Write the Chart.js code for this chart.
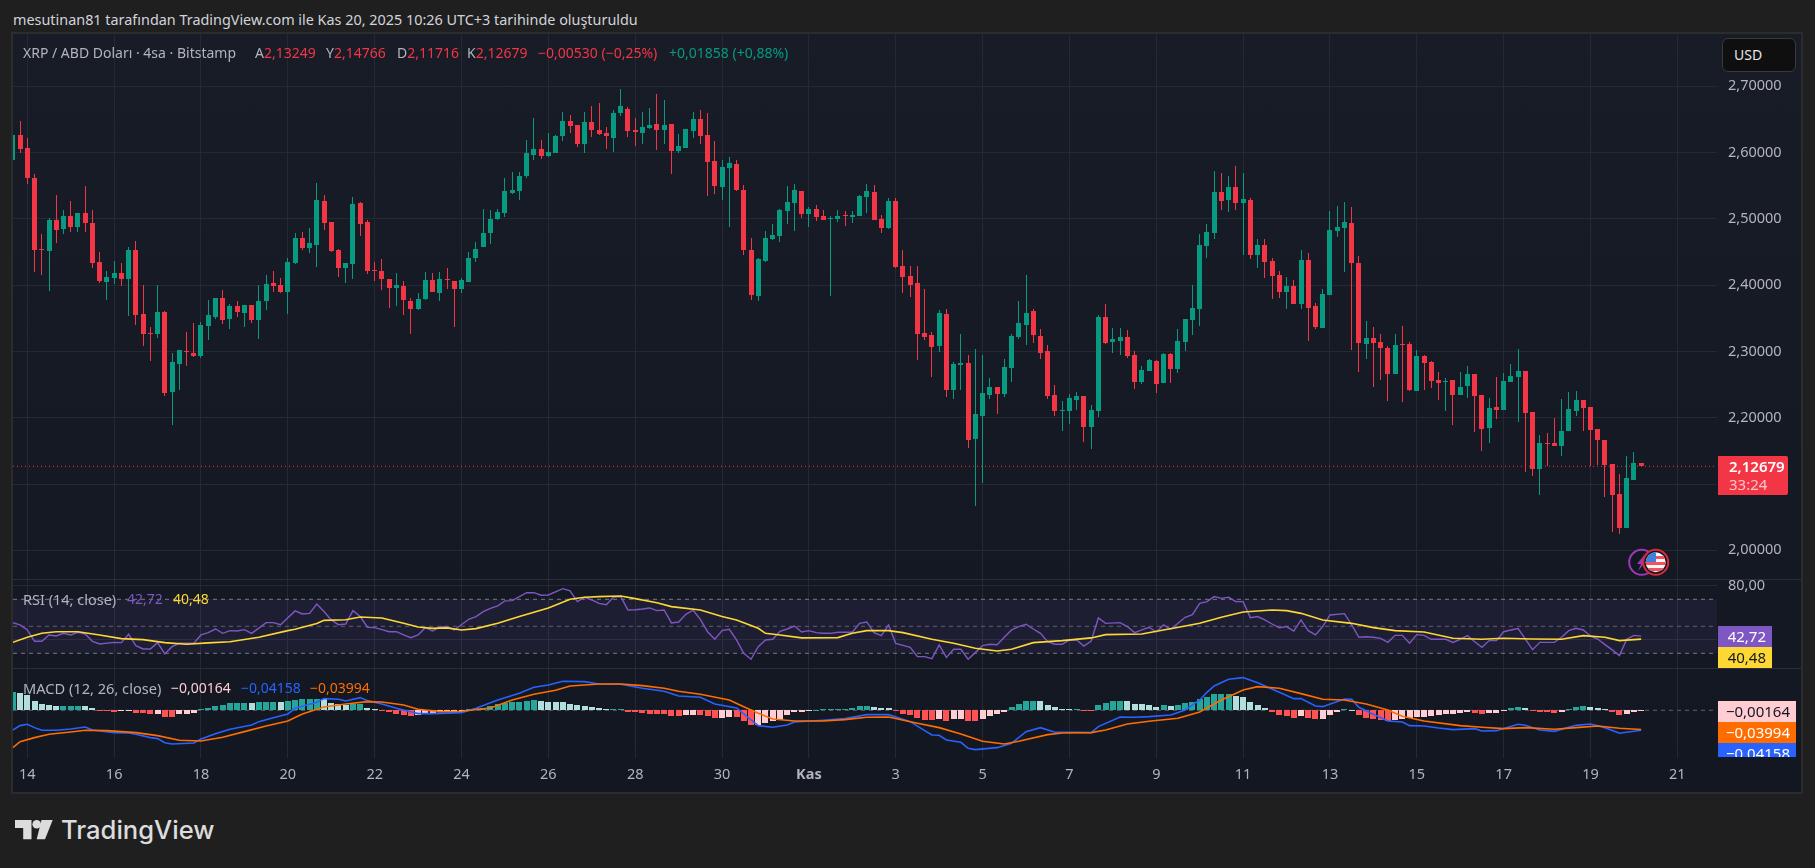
<!DOCTYPE html>
<html lang="tr">
<head>
<meta charset="utf-8">
<title>XRP / ABD Doları</title>
<script src="https://cdn.jsdelivr.net/npm/chart.js@4"></script>
<style>
  html, body { margin: 0; width: 1815px; height: 868px; overflow: hidden; background: #1f1f1f; }
  body { font-family: "Noto Sans", sans-serif; font-size: 14px; color: #b2b5be; }
  .abs { position: absolute; white-space: nowrap; line-height: 20px; }
  #panel { position: absolute; left: 11px; top: 32px; width: 1792px; height: 762px; box-sizing: border-box;
           border: 2px solid #2c2c2c; background: linear-gradient(#181c27, #131722); }
  #chart { position: absolute; left: 13px; top: 34px; }
  .sep { position: absolute; left: 13px; width: 1788px; height: 1px; background: #2a2e39; }
  .tag { position: absolute; left: 1718px; height: 21px; line-height: 21px; text-align: right; box-sizing: border-box; padding-right: 6px; overflow: hidden; font-size: 15px; }
  .red { color: #f23645; } .teal { color: #089981; }
</style>
</head>
<body>
<div class="abs" style="left:13px;top:10px;color:#d1d4dc;font-size:14.4px">mesutinan81 tarafından TradingView.com ile Kas 20, 2025 10:26 UTC+3 tarihinde oluşturuldu</div>
<div id="panel"></div>
<canvas id="chart" width="1788" height="758"></canvas>
<div class="sep" style="top:579px"></div>
<div class="sep" style="top:668px"></div>

<div class="abs" style="left:23px;top:43px">XRP / ABD Doları · 4sa · Bitstamp</div>
<div class="abs" style="left:255px;top:43px">A<span class="red">2,13249</span></div>
<div class="abs" style="left:326px;top:43px">Y<span class="red">2,14766</span></div>
<div class="abs" style="left:397px;top:43px">D<span class="red">2,11716</span></div>
<div class="abs" style="left:467px;top:43px">K<span class="red">2,12679</span></div>
<div class="abs red" style="left:538px;top:43px">−0,00530 (−0,25%)</div>
<div class="abs teal" style="left:669px;top:43px">+0,01858 (+0,88%)</div>

<div class="abs" style="left:23px;top:589px;font-size:14.5px">RSI (14, close)</div>
<div class="abs" style="left:127px;top:589px;color:#7e57c2">42,72</div>
<div class="abs" style="left:173px;top:589px;color:#fdd835">40,48</div>
<div class="abs" style="left:23px;top:678px;font-size:14.6px">MACD (12, 26, close)</div>
<div class="abs" style="left:171px;top:678px;color:#ffcdd2">−0,00164</div>
<div class="abs" style="left:241px;top:678px;color:#2962ff">−0,04158</div>
<div class="abs" style="left:310px;top:678px;color:#ff6d00">−0,03994</div>

<div class="abs" style="left:1722px;top:38px;width:72px;height:32px;line-height:32px;box-sizing:content-box;background:#0f0f0f;border:1px solid #3a3a3a;border-radius:6px;color:#e6e6e6;text-indent:11px">USD</div>

<div class="abs" style="left:1718px;top:456px;width:70px;height:39px;background:#f23645;border-radius:0 2px 2px 0"></div>
<div class="abs" style="left:1729px;top:456px;color:#fff;font-weight:600;font-size:15px">2,12679</div>
<div class="abs" style="left:1729px;top:474px;color:#fbc5ca;font-size:15px">33:24</div>

<div class="tag" style="top:626px;width:54px;background:#7e57c2;color:#fff">42,72</div>
<div class="tag" style="top:647px;width:54px;background:#fdd835;color:#131722">40,48</div>
<div class="tag" style="top:701px;width:78px;background:#ffcdd2;color:#131722">−0,00164</div>
<div class="tag" style="top:722px;width:78px;background:#ff6d00;color:#fff">−0,03994</div>
<div class="tag" style="top:743px;width:78px;height:14px;background:#2962ff;color:#fff">−0,04158</div>

<!-- olay ikonlari -->
<svg class="abs" style="left:1626px;top:547px" width="46" height="31" viewBox="0 0 46 31">
  <circle cx="15.7" cy="15.3" r="12.5" fill="#131722" stroke="#9c39b5" stroke-width="2"/>
  <path d="M19 7 L11 17 L15 17 L12 24 L21 13 L17 13 Z" fill="#9c39b5"/>
  <circle cx="29.7" cy="15.3" r="12.5" fill="#131722" stroke="#d92b3a" stroke-width="2"/>
  <clipPath id="flag"><circle cx="29.7" cy="15.3" r="10"/></clipPath>
  <g clip-path="url(#flag)">
    <rect x="19" y="5" width="22" height="21" fill="#f5f5f5"/>
    <rect x="19" y="9" width="22" height="3" fill="#f0525f"/>
    <rect x="19" y="15" width="22" height="3" fill="#f0525f"/>
    <rect x="19" y="21" width="22" height="3" fill="#f0525f"/>
    <rect x="19" y="5" width="11" height="10" fill="#3f7fe0"/>
  </g>
</svg>

<!-- logo -->
<svg class="abs" style="left:15px;top:820px" width="39" height="20" viewBox="0 0 39 20">
  <path d="M0 0 H16.5 V19.3 H8.2 V8 H0 Z" fill="#dcdcdc"/>
  <circle cx="21.7" cy="4.3" r="4.3" fill="#dcdcdc"/>
  <path d="M26.5 0 H37.7 L30 19.3 H21.7 Z" fill="#dcdcdc"/>
</svg>
<div class="abs" style="left:61px;top:815px;line-height:30px;font-family:Inter,sans-serif;font-weight:500;font-size:25.6px;color:#dcdcdc">TradingView</div>

<script>
// Mum verileri, ilk eleman 14 Ekim etiketinden iki bar oncesi
const firstBar = -2;
const opens = [
  2.5889, 2.6266, 2.6070, 2.5617, 2.4546, 2.4516, 2.4983, 2.4848, 2.5044, 2.4878,
  2.5089, 2.4938, 2.4350, 2.4048, 2.4108, 2.4184, 2.4093, 2.4530, 2.3565, 2.3278,
  2.3263, 2.3595, 2.2388, 2.2810, 2.3007, 2.2976, 2.2931, 2.3384, 2.3520, 2.3806,
  2.3490, 2.3686, 2.3580, 2.3701, 2.3474, 2.3761, 2.4033, 2.4003, 2.3897, 2.4335,
  2.4712, 2.4560, 2.4606, 2.5270, 2.4953, 2.4530, 2.4259, 2.4320, 2.5240, 2.4953,
  2.4229, 2.4214, 2.4093, 2.3957, 2.3987, 2.3761, 2.3640, 2.3791, 2.4078, 2.3882,
  2.4093, 2.4063, 2.3942, 2.4048, 2.4410, 2.4576, 2.4787, 2.4998, 2.5089, 2.5391,
  2.5421, 2.5647, 2.5964, 2.6055, 2.5949, 2.5994, 2.6251, 2.6477, 2.6417, 2.6130,
  2.6462, 2.6342, 2.6296, 2.6220, 2.6598, 2.6658, 2.6342, 2.6296, 2.6372, 2.6432,
  2.6342, 2.6432, 2.6025, 2.6070, 2.6326, 2.6508, 2.6266, 2.5874, 2.5481, 2.5768,
  2.5828, 2.5436, 2.4530, 2.3837, 2.4365, 2.4697, 2.4742, 2.5119, 2.5240, 2.5421,
  2.5074, 2.5149, 2.5044, 2.5004, 2.4998, 2.5065, 2.5035, 2.5050, 2.5337, 2.5412,
  2.5005, 2.4869, 2.5276, 2.4295, 2.4145, 2.4039, 2.3284, 2.3254, 2.3088, 2.3571,
  2.2424, 2.2802, 2.2832, 2.1685, 2.2032, 2.2349, 2.2469, 2.2364, 2.2756, 2.3224,
  2.3405, 2.3616, 2.3239, 2.3013, 2.2349, 2.2107, 2.2107, 2.2273, 2.2334, 2.1866,
  2.2107, 2.3526, 2.3149, 2.3164, 2.3224, 2.2952, 2.2545, 2.2711, 2.2862, 2.2530,
  2.2968, 2.2741, 2.3149, 2.3480, 2.3647, 2.4597, 2.4793, 2.5412, 2.5291, 2.5488,
  2.5246, 2.5291, 2.4461, 2.4612, 2.4371, 2.4160, 2.3903, 2.3994, 2.3722, 2.4386,
  2.3692, 2.3360, 2.3858, 2.4824, 2.4869, 2.4944, 2.4341, 2.3118, 2.3209, 2.3149,
  2.3058, 2.2666, 2.3118, 2.3118, 2.2409, 2.2937, 2.2847, 2.2575, 2.2545, 2.2575,
  2.2349, 2.2485, 2.2666, 2.2349, 2.1851, 2.2168, 2.2122, 2.2545, 2.2621, 2.2711,
  2.2092, 2.1232, 2.1625, 2.1625, 2.1579, 2.1806, 2.2107, 2.2273, 2.2168, 2.1836,
  2.1670, 2.1308, 2.0854, 2.0341, 2.1065, 2.13249
];
const highs = [
  2.6270, 2.6477, 2.6220, 2.5678, 2.4772, 2.5014, 2.5360, 2.5134, 2.5270, 2.5089,
  2.5496, 2.5134, 2.4500, 2.4214, 2.4365, 2.4335, 2.4576, 2.4666, 2.4003, 2.3369,
  2.4003, 2.3610, 2.2976, 2.3022, 2.3293, 2.3429, 2.3444, 2.3776, 2.3806, 2.3927,
  2.3716, 2.3761, 2.3701, 2.3701, 2.4003, 2.4153, 2.4214, 2.4108, 2.4410, 2.4787,
  2.4802, 2.4863, 2.5542, 2.5360, 2.4953, 2.4546, 2.4335, 2.5330, 2.5255, 2.4983,
  2.4350, 2.4395, 2.4093, 2.4184, 2.4063, 2.3806, 2.3882, 2.4199, 2.4184, 2.4199,
  2.4259, 2.4063, 2.4108, 2.4500, 2.4651, 2.5149, 2.5134, 2.5149, 2.5617, 2.5708,
  2.5708, 2.6190, 2.6523, 2.6190, 2.6296, 2.6266, 2.6613, 2.6568, 2.6417, 2.6613,
  2.6704, 2.6749, 2.6387, 2.6643, 2.6960, 2.6689, 2.6523, 2.6613, 2.6674, 2.6885,
  2.6794, 2.6432, 2.6281, 2.6357, 2.6613, 2.6643, 2.6598, 2.6175, 2.5889, 2.5934,
  2.5889, 2.5512, 2.4712, 2.4410, 2.4817, 2.4923, 2.5149, 2.5496, 2.5527, 2.5421,
  2.5179, 2.5209, 2.5134, 2.5044, 2.5134, 2.5125, 2.5125, 2.5367, 2.5533, 2.5518,
  2.5065, 2.5322, 2.5322, 2.4537, 2.4295, 2.4295, 2.3948, 2.3300, 2.3632, 2.3647,
  2.2847, 2.3269, 2.2952, 2.3044, 2.2945, 2.2605, 2.2469, 2.2892, 2.3269, 2.3767,
  2.4160, 2.3647, 2.3345, 2.3103, 2.2500, 2.2258, 2.2364, 2.2394, 2.2334, 2.2198,
  2.3556, 2.3722, 2.3360, 2.3360, 2.3330, 2.3013, 2.2786, 2.2892, 2.2877, 2.2983,
  2.2983, 2.3345, 2.3496, 2.4009, 2.4778, 2.4929, 2.5729, 2.5699, 2.5654, 2.5804,
  2.5699, 2.5322, 2.4703, 2.4703, 2.4416, 2.4220, 2.4130, 2.4084, 2.4537, 2.4492,
  2.3737, 2.3948, 2.5125, 2.5201, 2.5261, 2.5186, 2.4446, 2.3465, 2.3375, 2.3269,
  2.3088, 2.3269, 2.3390, 2.3149, 2.3028, 2.2952, 2.2862, 2.2696, 2.2605, 2.2560,
  2.2696, 2.2786, 2.2454, 2.2304, 2.2304, 2.2621, 2.2681, 2.2817, 2.3043, 2.2213,
  2.1715, 2.1745, 2.1775, 2.2002, 2.2289, 2.2394, 2.2409, 2.2183, 2.1881, 2.1700,
  2.1489, 2.1005, 2.1156, 2.1428, 2.14766
];
const lows = [
  2.5880, 2.5994, 2.5527, 2.4199, 2.4153, 2.3912, 2.4636, 2.4772, 2.4802, 2.4802,
  2.4802, 2.4259, 2.4033, 2.3776, 2.4018, 2.3987, 2.3535, 2.3399, 2.3082, 2.2856,
  2.3203, 2.2328, 2.1890, 2.2418, 2.2780, 2.2916, 2.2901, 2.3173, 2.3490, 2.3414,
  2.3339, 2.3520, 2.3369, 2.3429, 2.3188, 2.3625, 2.3897, 2.3882, 2.3565, 2.4320,
  2.4530, 2.4485, 2.4274, 2.4832, 2.4500, 2.4123, 2.4033, 2.4093, 2.4742, 2.4169,
  2.4063, 2.3927, 2.3656, 2.3686, 2.3550, 2.3263, 2.3625, 2.3776, 2.3897, 2.3761,
  2.3942, 2.3369, 2.3882, 2.4048, 2.4350, 2.4576, 2.4621, 2.4983, 2.5029, 2.5376,
  2.5285, 2.5617, 2.5889, 2.5904, 2.5934, 2.5994, 2.6175, 2.6296, 2.6085, 2.5994,
  2.6236, 2.6266, 2.6055, 2.6009, 2.6553, 2.6236, 2.6100, 2.6130, 2.6357, 2.6040,
  2.6130, 2.5678, 2.5994, 2.6070, 2.6220, 2.6130, 2.5346, 2.5376, 2.5285, 2.4878,
  2.5421, 2.4455, 2.3776, 2.3761, 2.4350, 2.4682, 2.4651, 2.4923, 2.4817, 2.5014,
  2.4878, 2.4968, 2.4983, 2.3837, 2.4953, 2.4899, 2.4944, 2.5050, 2.5095, 2.4990,
  2.4793, 2.4854, 2.4265, 2.3888, 2.3828, 2.2877, 2.3179, 2.2621, 2.2998, 2.2319,
  2.2289, 2.2424, 2.1549, 2.0674, 2.1021, 2.2289, 2.2062, 2.2319, 2.2546, 2.3194,
  2.3103, 2.3134, 2.2892, 2.2289, 2.2032, 2.1806, 2.1911, 2.2122, 2.1640, 2.1534,
  2.2017, 2.3118, 2.2983, 2.2952, 2.2907, 2.2439, 2.2515, 2.2711, 2.2379, 2.2530,
  2.2530, 2.2681, 2.3013, 2.3254, 2.3390, 2.4416, 2.4703, 2.5140, 2.5110, 2.5140,
  2.4461, 2.4401, 2.4265, 2.4114, 2.3798, 2.3813, 2.3647, 2.3722, 2.3647, 2.3164,
  2.3345, 2.3828, 2.4507, 2.4733, 2.4205, 2.3028, 2.2696, 2.2892, 2.2469, 2.2575,
  2.2258, 2.2741, 2.2243, 2.2409, 2.2726, 2.2424, 2.2454, 2.2273, 2.2107, 2.1896,
  2.2379, 2.2304, 2.1791, 2.1504, 2.1625, 2.1987, 2.2394, 2.2590, 2.1941, 2.1187,
  2.1127, 2.0840, 2.1267, 2.1579, 2.1428, 2.2002, 2.2032, 2.1806, 2.1267, 2.1293,
  2.0810, 2.0280, 2.0250, 2.0945, 2.11716
];
const closes = [
  2.6266, 2.6055, 2.5617, 2.4530, 2.4530, 2.4983, 2.4832, 2.5044, 2.4878, 2.5089,
  2.4938, 2.4335, 2.4063, 2.4123, 2.4184, 2.4093, 2.4530, 2.3550, 2.3263, 2.3263,
  2.3595, 2.2373, 2.2841, 2.3022, 2.2992, 2.2931, 2.3399, 2.3550, 2.3806, 2.3474,
  2.3686, 2.3595, 2.3701, 2.3474, 2.3761, 2.4018, 2.3987, 2.3897, 2.4350, 2.4712,
  2.4560, 2.4636, 2.5285, 2.4938, 2.4516, 2.4259, 2.4335, 2.5225, 2.4923, 2.4214,
  2.4214, 2.4093, 2.3957, 2.4003, 2.3776, 2.3640, 2.3791, 2.4078, 2.3897, 2.4093,
  2.4078, 2.3942, 2.4078, 2.4410, 2.4546, 2.4787, 2.4998, 2.5104, 2.5421, 2.5436,
  2.5647, 2.5994, 2.6055, 2.5949, 2.6009, 2.6251, 2.6477, 2.6402, 2.6130, 2.6462,
  2.6342, 2.6281, 2.6251, 2.6598, 2.6704, 2.6326, 2.6311, 2.6387, 2.6417, 2.6342,
  2.6417, 2.6025, 2.6100, 2.6357, 2.6508, 2.6251, 2.5859, 2.5496, 2.5783, 2.5844,
  2.5436, 2.4530, 2.3852, 2.4395, 2.4712, 2.4757, 2.5134, 2.5255, 2.5436, 2.5074,
  2.5149, 2.5029, 2.4983, 2.5014, 2.5044, 2.5055, 2.5065, 2.5352, 2.5427, 2.4990,
  2.4869, 2.5276, 2.4280, 2.4130, 2.4009, 2.3269, 2.3224, 2.3073, 2.3586, 2.2424,
  2.2817, 2.2832, 2.1670, 2.2062, 2.2379, 2.2469, 2.2364, 2.2771, 2.3239, 2.3435,
  2.3586, 2.3254, 2.2983, 2.2334, 2.2107, 2.2122, 2.2304, 2.2334, 2.1866, 2.2122,
  2.3526, 2.3134, 2.3194, 2.3224, 2.2937, 2.2545, 2.2726, 2.2877, 2.2515, 2.2968,
  2.2741, 2.3164, 2.3496, 2.3662, 2.4612, 2.4809, 2.5412, 2.5276, 2.5488, 2.5246,
  2.5306, 2.4461, 2.4612, 2.4356, 2.4145, 2.3903, 2.3994, 2.3722, 2.4386, 2.3662,
  2.3375, 2.3873, 2.4839, 2.4884, 2.4959, 2.4341, 2.3134, 2.3209, 2.3134, 2.3058,
  2.2666, 2.3103, 2.3103, 2.2424, 2.2937, 2.2832, 2.2560, 2.2530, 2.2560, 2.2349,
  2.2469, 2.2666, 2.2334, 2.1836, 2.2153, 2.2122, 2.2560, 2.2636, 2.2711, 2.2077,
  2.1232, 2.1625, 2.1610, 2.1579, 2.1806, 2.2138, 2.2273, 2.2153, 2.1821, 2.1670,
  2.1293, 2.0840, 2.0341, 2.1096, 2.1322, 2.12679
];
const lastPrice = 2.12679;

// Eksen etiketleri
const priceTicks = [2.7, 2.6, 2.5, 2.4, 2.3, 2.2, 2.1, 2.0];
const rsiTicks = [80, 40];
const rsiLevels = [70, 50, 30];
const dateBars = [0, 12, 24, 36, 48, 60, 72, 84, 96, 108, 120, 132, 144, 156, 168, 180, 192, 204, 216, 228];
const dateLabels = ["14", "16", "18", "20", "22", "24", "26", "28", "30", "Kas", "3", "5", "7", "9", "11", "13", "15", "17", "19", "21"];

// RSI cizgisi (sadece kirilma noktalari)
const rsiBars = [
  -2, -1, 0, 1, 2, 3, 4, 5, 6, 7, 8, 9, 10, 12, 13, 14, 15, 16, 17, 18, 19, 20, 21, 23, 24, 25, 26, 27, 28, 29,
  30, 31, 33, 34, 35, 37, 38, 39, 40, 41, 42, 43, 44, 45, 46, 47, 48, 49, 50, 51, 52, 53, 54, 55, 56, 57, 58, 59, 61, 62,
  63, 64, 65, 66, 67, 69, 70, 71, 72, 74, 75, 76, 77, 78, 79, 80, 81, 82, 83, 84, 85, 86, 87, 88, 89, 90, 91, 92, 93, 94,
  95, 96, 97, 98, 99, 100, 101, 102, 103, 104, 105, 106, 107, 108, 109, 110, 111, 112, 114, 115, 116, 117, 118, 119, 120, 121, 122, 123, 124, 125,
  126, 127, 128, 129, 130, 131, 132, 133, 134, 135, 136, 137, 138, 139, 140, 141, 142, 143, 144, 145, 146, 147, 148, 149, 151, 152, 153, 154, 155, 156,
  157, 158, 159, 160, 161, 162, 163, 164, 165, 166, 167, 168, 169, 170, 171, 172, 173, 174, 175, 176, 177, 178, 179, 180, 182, 183, 184, 185, 186, 187,
  188, 189, 190, 191, 192, 193, 194, 196, 197, 198, 199, 200, 201, 202, 203, 204, 205, 206, 208, 209, 211, 212, 213, 214, 215, 216, 217, 218, 219, 220,
  221, 222, 223
];
const rsiValues = [
  52.7, 51, 47.3, 38.9, 38.9, 43.6, 42.8, 44.8, 43.6, 45.6, 44.3, 38.9, 36.9, 38.1, 37.9, 44.1, 35.7, 33.2, 33.2, 37.9, 29.5, 34.9, 37.4, 37.4, 43.6, 45.3, 48, 44.8, 46.8, 46.5,
  47.5, 44.8, 52.7, 52.7, 51.2, 61.4, 59.1, 59.6, 66.5, 60.9, 54.7, 51.2, 51.7, 61.6, 57.2, 49.3, 49, 47.5, 46, 46, 43.6, 41.6, 43.6, 49, 46.5, 49.5, 49.8, 47.3, 55.2, 57.2,
  60.9, 63.3, 65.1, 68.8, 69, 74.9, 74.9, 73, 73.2, 77.9, 76.2, 68.3, 71.5, 69.5, 67, 66, 71.5, 72, 62.1, 62.3, 62.8, 63.6, 61.6, 62.1, 52.5, 53.2, 58.9, 61.9, 55.2, 46,
  40.4, 46.8, 47.8, 39.9, 30, 25.6, 34.9, 39.9, 40.4, 46.3, 48, 50.2, 45.8, 46.8, 45.3, 44.8, 44.8, 45.6, 45.6, 52.2, 53.2, 45.3, 43.1, 51, 37.4, 35.9, 34.4, 27.5, 27.5, 26,
  36.2, 27, 33, 33, 25.6, 30.5, 35.7, 36.7, 36.4, 41.9, 47.3, 49.8, 51.5, 48, 44.8, 38.6, 36.7, 36.7, 39.9, 39.9, 35.4, 39.1, 56.2, 52.2, 52.7, 49.8, 45.3, 47.3, 49.3, 45.8,
  51, 47.8, 52.2, 56.7, 58.6, 67, 68.3, 72, 70.7, 71.5, 68.3, 68.3, 56.4, 57.2, 54.7, 51.7, 49, 49.8, 46.5, 54.7, 46.8, 43.6, 49.8, 58.4, 59.4, 51, 41.9, 42.3, 41.9, 41.1,
  38.1, 43.3, 43.3, 37.4, 43.8, 43.3, 40.4, 40.4, 38.1, 40.4, 43.1, 38.6, 34.4, 39.4, 39.4, 46, 47.3, 48.3, 32.7, 38.1, 38.1, 41.9, 46.8, 48.5, 47.3, 42.8, 40.6, 36.4, 32.5, 28.3,
  40.4, 43.3, 42.72
];
const rsiMaBars = [
  -2, 0, 2, 4, 7, 10, 13, 16, 19, 22, 25, 28, 32, 36, 37, 40, 41, 44, 46, 49, 52, 54, 56, 58, 60, 62, 65, 68, 72, 75, 77, 79,
  82, 84, 87, 89, 93, 96, 98, 101, 102, 104, 107, 112, 114, 116, 119, 121, 125, 128, 131, 134, 136, 139, 143, 147, 149, 154, 157, 160, 162,
  165, 168, 172, 174, 176, 179, 183, 186, 189, 193, 197, 201, 204, 208, 212, 215, 218, 220, 223
];
const rsiMaValues = [
  38.1, 41.9, 44.8, 46, 46, 43.6, 40.9, 40.1, 37.9, 36.7, 37.7, 38.6, 41.9, 46.8, 47.8, 52, 54.4, 54.9, 56.9, 56.2, 52.2, 49.5, 48.5, 48.8, 47.3, 48.3, 52.2, 57.2, 63.6, 70, 71.5, 72,
  72.5, 70.5, 67.5, 64.6, 62.1, 57.2, 54.7, 48.5, 44.8, 43.6, 41.4, 41.6, 44.8, 46.8, 46.8, 45.3, 40.4, 37.4, 33.7, 31.7, 33, 37.9, 39.4, 41.4, 43.8, 44.3, 47.3, 50.2, 52.2,
  56.7, 60.6, 62.1, 61.6, 59.6, 54.7, 52.2, 49, 46.8, 45.8, 41.1, 40.4, 41.1, 40.6, 40.4, 43.1, 41.9, 39.4, 40.48
];

// MACD cizgileri
const macdBars = [
  -2, -1, 0, 1, 2, 4, 6, 8, 9, 12, 14, 15, 17, 18, 19, 20, 23, 24, 26, 28, 31, 32, 34, 36, 37, 40, 41, 43, 44, 46, 47, 49, 51, 54, 56, 60, 62, 65, 68, 70, 72, 74, 77, 79,
  82, 85, 88, 90, 93, 95, 98, 100, 101, 103, 105, 106, 110, 113, 116, 119, 122, 124, 125, 126, 127, 129, 130, 131, 134, 136, 138, 140, 142, 145, 147, 148, 151, 153, 155, 158, 160, 162,
  163, 164, 166, 168, 170, 173, 175, 176, 178, 179, 182, 183, 184, 186, 188, 190, 191, 193, 195, 197, 200, 201, 203, 206, 207, 209, 211, 214, 216, 218, 220, 223
];
const macdValues = [
  -0.0410, -0.0319, -0.0292, -0.0361, -0.0417, -0.0417, -0.0389, -0.0347, -0.0410, -0.0465, -0.0472, -0.0500, -0.0569, -0.0590, -0.0674, -0.0701, -0.0681, -0.0597, -0.0486, -0.0396, -0.0306, -0.0236, -0.0153, -0.0076, 0.0042, 0.0167, 0.0243, 0.0229, 0.0194, 0.0264, 0.0201, 0.0132, 0.0042, -0.0069, -0.0069, -0.0049, 0.0042, 0.0215, 0.0354, 0.0479, 0.0528, 0.0604, 0.0597, 0.0549,
  0.0542, 0.0458, 0.0396, 0.0299, 0.0271, 0.0132, 0.0049, -0.0201, -0.0319, -0.0354, -0.0306, -0.0243, -0.0208, -0.0174, -0.0090, -0.0090, -0.0236, -0.0424, -0.0514, -0.0521, -0.0618, -0.0667, -0.0792, -0.0819, -0.0778, -0.0688, -0.0444, -0.0361, -0.0458, -0.0458, -0.0465, -0.0340, -0.0139, -0.0146, -0.0132, -0.0097, 0.0007, 0.0215,
  0.0375, 0.0507, 0.0646, 0.0681, 0.0576, 0.0375, 0.0243, 0.0243, 0.0090, 0.0076, 0.0236, 0.0229, 0.0063, -0.0083, -0.0222, -0.0243, -0.0319, -0.0326, -0.0368, -0.0403, -0.0382, -0.0431, -0.0424, -0.0292, -0.0313, -0.0410, -0.0438, -0.0313, -0.0285, -0.0361, -0.0479, -0.04158
];
const signalBars = [
  -2, -1, 1, 3, 6, 8, 11, 15, 18, 21, 24, 27, 30, 33, 36, 38, 41, 44, 47, 49, 52, 54, 57, 60, 64, 67, 70, 73, 75, 79,
  82, 85, 88, 90, 93, 97, 99, 101, 103, 106, 110, 113, 116, 119, 123, 126, 129, 132, 135, 137, 141, 143, 147, 149, 152, 155, 159, 162,
  165, 168, 170, 173, 176, 179, 182, 185, 188, 190, 193, 198, 201, 204, 207, 211, 214, 217, 220, 223
];
const signalValues = [
  -0.0778, -0.0653, -0.0569, -0.0500, -0.0451, -0.0417, -0.0424, -0.0465, -0.0528, -0.0625, -0.0639, -0.0563, -0.0444, -0.0326, -0.0222, -0.0076, 0.0069, 0.0132, 0.0181, 0.0174, 0.0111, 0.0021, -0.0028, -0.0021, 0.0049, 0.0215, 0.0333, 0.0417, 0.0507, 0.0549,
  0.0549, 0.0514, 0.0458, 0.0396, 0.0333, 0.0215, 0.0076, -0.0063, -0.0181, -0.0222, -0.0222, -0.0194, -0.0146, -0.0139, -0.0271, -0.0361, -0.0493, -0.0646, -0.0701, -0.0646, -0.0507, -0.0472, -0.0465, -0.0410, -0.0285, -0.0229, -0.0167, -0.0035,
  0.0215, 0.0424, 0.0493, 0.0458, 0.0347, 0.0229, 0.0215, 0.0132, 0.0007, -0.0125, -0.0222, -0.0319, -0.0354, -0.0382, -0.0361, -0.0396, -0.0361, -0.0326, -0.0375, -0.03994
];
// Histogram, mumlarla ayni siradan basliyor
const histValues = [
  0.0375, 0.0354, 0.0319, 0.0194, 0.0132, 0.0111, 0.0088, 0.0092, 0.0094, 0.0096,
  0.0090, 0.0050, -0.0014, -0.0020, -0.0028, -0.0020, -0.0014, -0.0050, -0.0065, -0.0085,
  -0.0075, -0.0135, -0.0140, -0.0085, -0.0075, -0.0050, 0.0021, 0.0055, 0.0090, 0.0110,
  0.0155, 0.0156, 0.0160, 0.0152, 0.0165, 0.0175, 0.0180, 0.0172, 0.0200, 0.0220,
  0.0225, 0.0228, 0.0236, 0.0229, 0.0150, 0.0125, 0.0118, 0.0125, 0.0130, 0.0055,
  0.0020, -0.0014, -0.0028, -0.0080, -0.0104, -0.0118, -0.0104, -0.0070, -0.0056, -0.0035,
  -0.0028, -0.0020, -0.0014, 0.0020, 0.0040, 0.0055, 0.0085, 0.0125, 0.0160, 0.0165,
  0.0180, 0.0200, 0.0215, 0.0195, 0.0174, 0.0172, 0.0170, 0.0132, 0.0104, 0.0090,
  0.0062, 0.0042, 0.0028, 0.0030, 0.0032, -0.0028, -0.0042, -0.0048, -0.0069, -0.0070,
  -0.0072, -0.0118, -0.0125, -0.0104, -0.0100, -0.0105, -0.0118, -0.0165, -0.0160, -0.0140,
  -0.0146, -0.0215, -0.0306, -0.0300, -0.0264, -0.0215, -0.0194, -0.0104, -0.0035, -0.0028,
  -0.0007, 0.0014, 0.0021, 0.0021, 0.0022, 0.0028, 0.0048, 0.0083, 0.0090, 0.0062,
  0.0050, 0.0048, -0.0007, -0.0076, -0.0097, -0.0167, -0.0208, -0.0210, -0.0188, -0.0215,
  -0.0188, -0.0186, -0.0222, -0.0224, -0.0190, -0.0118, -0.0076, -0.0028, 0.0069, 0.0132,
  0.0194, 0.0195, 0.0188, 0.0104, 0.0076, 0.0035, 0.0034, 0.0035, -0.0007, -0.0008,
  0.0118, 0.0153, 0.0188, 0.0194, 0.0188, 0.0132, 0.0125, 0.0118, 0.0076, 0.0104,
  0.0083, 0.0118, 0.0153, 0.0174, 0.0243, 0.0278, 0.0340, 0.0341, 0.0342, 0.0300,
  0.0278, 0.0174, 0.0110, 0.0049, -0.0035, -0.0097, -0.0120, -0.0153, -0.0120, -0.0153,
  -0.0181, -0.0180, -0.0097, -0.0035, 0.0035, 0.0007, -0.0097, -0.0153, -0.0181, -0.0208,
  -0.0222, -0.0194, -0.0188, -0.0153, -0.0146, -0.0132, -0.0118, -0.0097, -0.0083, -0.0076,
  -0.0056, -0.0042, -0.0048, -0.0069, -0.0049, -0.0048, -0.0014, 0.0042, 0.0076, 0.0048,
  -0.0021, -0.0042, -0.0043, -0.0048, -0.0035, 0.0028, 0.0076, 0.0090, 0.0062, 0.0048,
  0.0028, -0.0042, -0.0104, -0.0083, -0.0042, -0.00164
];

// Gorunen bar araligi
const xMin = -1.976;
const xMax = 233.48;

const upColor = "#089981";
const downColor = "#f23645";
const gridColor = "#252934";
const textColor = "#b2b5be";

// Bar indexi -> {x, y} donusumu
const pairs = (bars, values) => bars.map((b, i) => ({ x: b, y: values[i] }));
const flatLine = (value) => [{ x: xMin, y: value }, { x: xMax, y: value }];

// Histogram rengi: yon ve bir onceki bara gore
function histColor(v, i) {
  const rising = i === 0 || v >= histValues[i - 1];
  if (v >= 0) return rising ? "#26a69a" : "#b2dfdb";
  return rising ? "#ffcdd2" : "#ff5252";
}

const candleColors = closes.map((c, i) => (c >= opens[i] ? upColor : downColor));

// Barlari piksele oturt, yoksa govde ve fitil bulaniklasiyor
const crispBars = {
  id: "crispBars",
  beforeDatasetsDraw(chart) {
    chart.getSortedVisibleDatasetMetas().forEach((meta) => {
      if (meta.type !== "bar") return;
      meta.data.forEach((el) => {
        const odd = Math.round(el.width) % 2 === 1;
        el.x = odd ? Math.floor(el.x) + 0.5 : Math.round(el.x);
        el.y = Math.round(el.y);
        el.base = Math.round(el.base);
        if (el.y === el.base) el.base = el.y + 1;
      });
    });
  },
};

// Etiket yuksekligi grafik alanini kucultmesin
function dropPadding(axis) {
  axis.paddingTop = 0;
  axis.paddingBottom = 0;
  axis.paddingLeft = 0;
  axis.paddingRight = 0;
}

function barDataset(data, colors, width, yAxisID, order) {
  return {
    type: "bar",
    data: data,
    yAxisID: yAxisID,
    backgroundColor: colors,
    borderWidth: 0,
    inflateAmount: 0,
    grouped: false,
    barPercentage: 1,
    categoryPercentage: 1,
    maxBarThickness: width,
    order: order,
  };
}

function lineDataset(data, color, width, yAxisID, order, extra) {
  return Object.assign(
    {
      type: "line",
      data: data,
      yAxisID: yAxisID,
      borderColor: color,
      borderWidth: width,
      pointRadius: 0,
      tension: 0,
      fill: false,
      order: order,
    },
    extra || {}
  );
}

function paneScale(weight, min, max, ticks, format) {
  return {
    type: "linear",
    position: "right",
    stack: "panes",
    stackWeight: weight,
    min: min,
    max: max,
    bounds: "data",
    border: { display: false },
    grid: { color: gridColor, drawTicks: false },
    ticks: { padding: 11, color: textColor, font: { size: 14.5 }, autoSkip: false, callback: format },
    afterBuildTicks: (axis) => { axis.ticks = ticks.map((v) => ({ value: v })); },
    afterFit: (axis) => {
      axis.width = 84;
      dropPadding(axis);
    },
  };
}

function initChart() {
  Chart.defaults.font.family = '"Noto Sans", sans-serif';
  const ctx = document.getElementById("chart").getContext("2d");

  const bars = closes.map((c, i) => i + firstBar);
  const wicks = bars.map((b, i) => ({ x: b, y: [lows[i], highs[i]] }));
  const bodies = bars.map((b, i) => ({ x: b, y: [opens[i], closes[i]] }));
  const hist = bars.map((b, i) => ({ x: b, y: histValues[i] }));
  const dashed = { borderDash: [4, 4] };

  return new Chart(ctx, {
    data: {
      datasets: [
        lineDataset(flatLine(lastPrice), downColor, 1, "yPrice", 3, { borderDash: [1, 3] }),
        barDataset(bodies, candleColors, 5, "yPrice", 1),
        barDataset(wicks, candleColors, 1, "yPrice", 2),

        lineDataset(pairs(rsiMaBars, rsiMaValues), "#fdd835", 1.6, "yRsi", 0),
        lineDataset(pairs(rsiBars, rsiValues), "#7e57c2", 1.4, "yRsi", 1),
        lineDataset(flatLine(rsiLevels[0]), "#787b86", 1, "yRsi", 4, Object.assign({
          fill: { target: { value: rsiLevels[2] }, below: "rgba(126,87,194,0.1)", above: "rgba(126,87,194,0.1)" },
        }, dashed)),
        lineDataset(flatLine(rsiLevels[1]), "#5d606b", 1, "yRsi", 4, dashed),
        lineDataset(flatLine(rsiLevels[2]), "#787b86", 1, "yRsi", 4, dashed),

        lineDataset(pairs(signalBars, signalValues), "#ff6d00", 1.6, "yMacd", 0),
        lineDataset(pairs(macdBars, macdValues), "#2962ff", 1.6, "yMacd", 1),
        barDataset(hist, histValues.map(histColor), 6, "yMacd", 2),
        lineDataset(flatLine(0), "#5d606b", 1, "yMacd", 4, dashed),
      ],
    },
    options: {
      responsive: false,
      animation: false,
      layout: { padding: 0 },
      plugins: { legend: { display: false }, tooltip: { enabled: false } },
      events: [],
      scales: {
        x: {
          type: "linear",
          min: xMin,
          max: xMax,
          bounds: "data",
          offset: false,
          border: { display: false },
          grid: { color: gridColor, drawTicks: false, offset: false },
          ticks: {
            padding: 9,
            maxRotation: 0,
            autoSkip: false,
            color: textColor,
            font: (c) => ({ size: 14.5, weight: c.tick && dateLabels[dateBars.indexOf(c.tick.value)] === "Kas" ? "bold" : "normal" }),
            callback: (value) => dateLabels[dateBars.indexOf(value)],
          },
          afterBuildTicks: (axis) => { axis.ticks = dateBars.map((v) => ({ value: v })); },
          afterFit: (axis) => {
            axis.height = 34.5;
            dropPadding(axis);
          },
        },
        yPrice: paneScale(545.5, 1.956, 2.7789, priceTicks, (v) => v.toFixed(5).replace(".", ",")),
        yRsi: paneScale(88.5, 19.11, 84.67, rsiTicks, (v) => (v === 80 ? "80,00" : "")),
        yMacd: paneScale(89.5, -0.0983, 0.0881, [], () => ""),
      },
    },
    plugins: [crispBars],
  });
}

initChart();
</script>
</body>
</html>
